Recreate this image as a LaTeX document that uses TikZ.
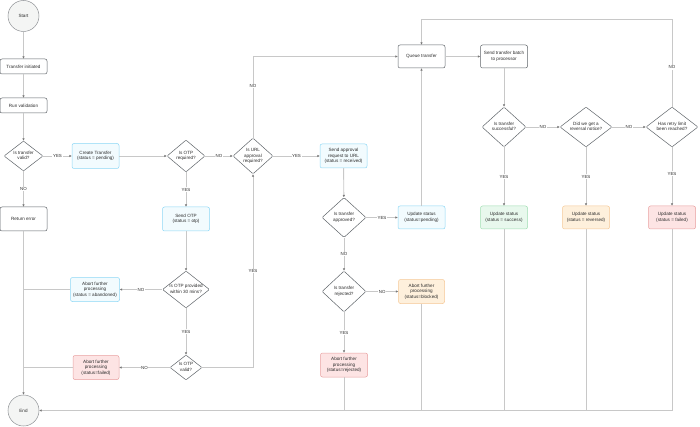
\documentclass[tikz,border=0pt]{standalone}
\usepackage{fontspec}
\setmainfont{Liberation Sans}
\usetikzlibrary{shapes.geometric,arrows.meta}
\definecolor{txtgray}{RGB}{45,45,45}
\definecolor{boxgray}{RGB}{95,100,105}
\definecolor{linegray}{RGB}{200,200,200}
\definecolor{tipgray}{RGB}{120,120,120}
\definecolor{cyanline}{RGB}{140,215,245}
\definecolor{cyanfill}{RGB}{242,251,254}
\definecolor{greenline}{RGB}{160,222,178}
\definecolor{greenfill}{RGB}{232,248,237}
\definecolor{orangeline}{RGB}{245,200,150}
\definecolor{orangefill}{RGB}{254,240,220}
\definecolor{redline}{RGB}{232,160,160}
\definecolor{redfill}{RGB}{253,228,228}
\definecolor{termfill}{RGB}{244,245,244}
% decision text, kept out of the diamond's size
\newcommand{\dq}[1]{\raisebox{-1.2pt}[0pt][0pt]{\makebox[0pt]{\begin{tabular}{@{}c@{}}#1\end{tabular}}}}
\begin{document}
\begin{tikzpicture}[
    x=1pt, y=-1pt,
    every node/.style={text=txtgray, font=\fontsize{4.6}{5.6}\selectfont},
    pnode/.style={rectangle, rounded corners=2pt, draw=boxgray, fill=white, line width=0.5pt, align=center, inner sep=1pt, minimum width=47pt, minimum height=24pt},
    bnode/.style={pnode, draw=cyanline, fill=cyanfill},
    gnode/.style={pnode, draw=greenline, fill=greenfill},
    onode/.style={pnode, draw=orangeline, fill=orangefill},
    rnode/.style={pnode, draw=redline, fill=redfill},
    dnode/.style={diamond, rounded corners=1pt, draw=boxgray, fill=white, line width=0.5pt, inner sep=0pt},
    cnode/.style={circle, draw=boxgray!70, fill=termfill, line width=0.5pt, minimum size=31pt, inner sep=0pt},
    flow/.style={draw=linegray, line width=0.9pt, -{Latex[length=2.4pt, width=2.4pt, color=tipgray]}},
    tieline/.style={draw=linegray, line width=0.9pt},
    lbl/.style={fill=white, inner sep=0.6pt, font=\fontsize{4.4}{5}\selectfont}
]
    \useasboundingbox (0,0) rectangle (700,427);
    % left column
    \node[cnode] (start) at (23.5,16) {Start};
    \node[pnode, minimum height=15pt] (init) at (23.5,66.5) {Transfer initiated};
    \node[pnode, minimum height=15pt] (validate) at (23.5,105.5) {Run validation};
    \node[dnode, minimum width=39pt, minimum height=30pt] (valid) at (23.5,156) {\dq{Is transfer\\valid?}};
    \node[pnode] (reterr) at (23.5,219) {Return error};
    \node[cnode] (endn) at (23.5,410.5) {End};
    % OTP branch
    \node[bnode, minimum height=25pt] (create) at (95.5,156) {Create Transfer\\(status = pending)};
    \node[dnode, minimum width=38pt, minimum height=32pt] (otpreq) at (186,156) {\dq{Is OTP\\required?}};
    \node[bnode] (sendotp) at (186,219) {Send OTP\\(status = otp)};
    \node[dnode, minimum width=47pt, minimum height=37pt] (otptime) at (186,289.5) {\dq{Is OTP provided\\within 30 mins?}};
    \node[bnode, minimum width=49pt] (ababand) at (95,289.5) {Abort further\\processing\\(status = abandoned)};
    \node[dnode, minimum width=32pt, minimum height=25pt] (otpvalid) at (186,367.5) {\dq{Is OTP\\valid?}};
    \node[rnode, minimum width=46pt] (abfail) at (96,367.5) {Abort further\\processing\\(status=failed)};
    % URL approval branch
    \node[dnode, minimum width=40pt, minimum height=36pt] (urlreq) at (253,156) {\dq{Is URL\\approval\\required?}};
    \node[bnode] (sendurl) at (343.5,156) {Send approval\\request to URL\\(status = received)};
    \node[dnode, minimum width=44pt, minimum height=40pt] (approved) at (344,217.5) {\dq{Is transfer\\approved?}};
    \node[bnode, minimum height=23pt] (uppend) at (421.5,217.5) {Update status\\(status=pending)};
    \node[dnode, minimum width=44pt, minimum height=41pt] (rejected) at (344,291.5) {\dq{Is transfer\\rejected?}};
    \node[onode, minimum width=46pt] (abblock) at (421.5,291.5) {Abort further\\processing\\(status=blocked)};
    \node[rnode] (abrej) at (344,365) {Abort further\\processing\\(status=rejected)};
    % processing
    \node[pnode, minimum height=23pt] (queue) at (421.5,56.5) {Queue transfer};
    \node[pnode, minimum height=23pt] (batch) at (504,56.5) {Send transfer batch\\to processor};
    \node[dnode, minimum width=44pt, minimum height=40pt] (success) at (504,127) {\dq{Is transfer\\successful?}};
    \node[dnode, minimum width=52pt, minimum height=40pt] (reversal) at (586,127) {\dq{Did we get a\\reversal notice?}};
    \node[dnode, minimum width=52pt, minimum height=40pt] (retry) at (672,127) {\dq{Has retry limit\\been reached?}};
    \node[gnode, minimum height=23pt] (upsucc) at (504,217.5) {Update status\\(status = success)};
    \node[onode, minimum height=23pt] (uprev) at (586,217.5) {Update status\\(status = reversed)};
    \node[rnode, minimum height=23pt] (upfail) at (672,217.5) {Update status\\(status = failed)};
    \coordinate (loop) at (672,19.5);

    \draw[flow] (start) -- (init);
    \draw[flow] (init) -- (validate);
    \draw[flow] (validate) -- (valid);
    \draw[flow] (valid) -- node[lbl]{YES} (create);
    \draw[flow] (valid) -- node[lbl]{NO} (reterr);
    \draw[flow] (reterr) -- (endn);
    \draw[flow] (create) -- (otpreq);
    \draw[flow] (otpreq) -- node[lbl]{NO} (urlreq);
    \draw[flow] (otpreq) -- node[lbl]{YES} (sendotp);
    \draw[flow] (sendotp) -- (otptime);
    \draw[flow] (otptime) -- node[lbl]{NO} (ababand);
    \draw[flow] (otptime) -- node[lbl]{YES} (otpvalid);
    \draw[flow] (otpvalid) -- node[lbl]{NO} (abfail);
    \draw[flow] (otpvalid.east) -| node[lbl, pos=0.75]{YES} (urlreq.south);
    \draw[tieline] (ababand.west) -- (ababand.west -| reterr);
    \draw[tieline] (abfail.west) -- (abfail.west -| reterr);
    \draw[flow] (urlreq) -- node[lbl]{YES} (sendurl);
    \draw[flow] (urlreq.north) |- node[lbl, pos=0.32]{NO} (queue.west);
    \draw[flow] (sendurl) -- (approved);
    \draw[flow] (approved) -- node[lbl]{YES} (uppend);
    \draw[flow] (approved) -- node[lbl]{NO} (rejected);
    \draw[flow] (rejected) -- node[lbl]{NO} (abblock);
    \draw[flow] (rejected) -- node[lbl]{YES} (abrej);
    \draw[flow] (uppend) -- (queue);
    \draw[flow] (queue) -- (batch);
    \draw[flow] (batch) -- (success);
    \draw[flow] (success) -- node[lbl]{NO} (reversal);
    \draw[flow] (reversal) -- node[lbl]{NO} (retry);
    \draw[flow] (success) -- node[lbl]{YES} (upsucc);
    \draw[flow] (reversal) -- node[lbl]{YES} (uprev);
    \draw[flow] (retry) -- node[lbl, pos=0.45]{YES} (upfail);
    \draw[flow] (retry.north) -- node[lbl, pos=0.45]{NO} (loop) -| (queue.north);
    % everything ends at End
    \draw[flow] (upfail) |- (endn);
    \draw[tieline] (uprev) -- (uprev |- endn);
    \draw[tieline] (upsucc) -- (upsucc |- endn);
    \draw[tieline] (abblock) -- (abblock |- endn);
    \draw[tieline] (abrej) -- (abrej |- endn);
\end{tikzpicture}
\end{document}
